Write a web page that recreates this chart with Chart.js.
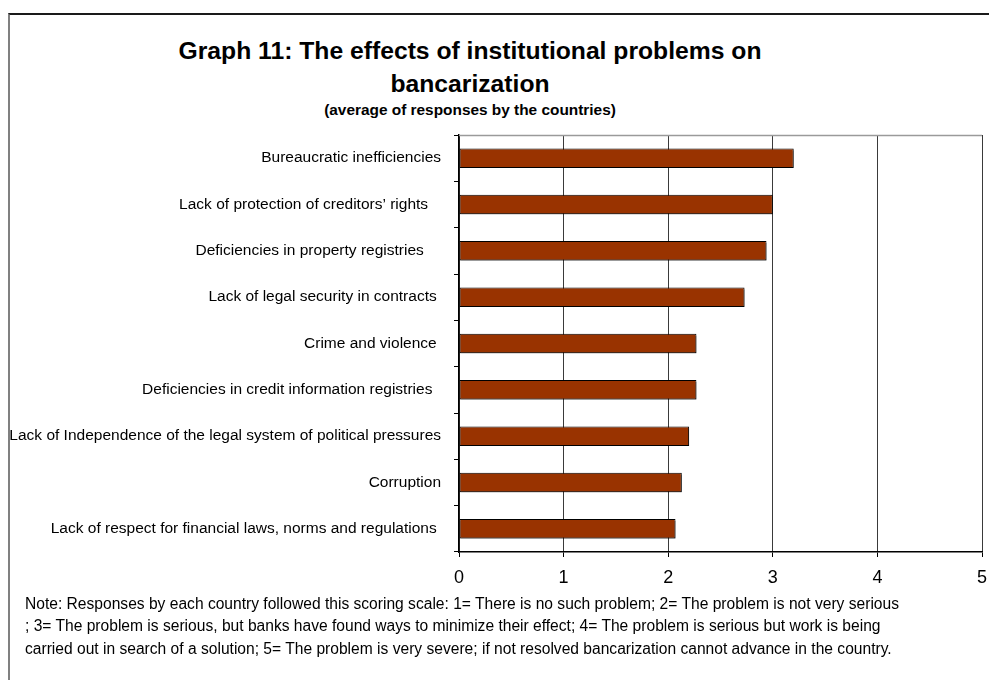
<!DOCTYPE html>
<html>
<head>
<meta charset="utf-8">
<script src="https://cdn.jsdelivr.net/npm/chart.js@4/dist/chart.umd.min.js"></script>
<style>
  html, body { margin: 0; padding: 0; background: #fff; }
  body { width: 989px; height: 680px; position: relative; overflow: hidden; font-family: "Liberation Sans", Arial, sans-serif; color: #000; }
  #frame { position: absolute; left: 8px; top: 13px; width: 1000px; height: 700px; border-top: 2px solid #1a1a1a; border-left: 2px solid #808080; }
  #title { position: absolute; left: 0; top: 33.5px; width: 940px; text-align: center; font-weight: bold; font-size: 24.7px; line-height: 33px; }
  #subtitle { position: absolute; left: 0; top: 101px; width: 940px; text-align: center; font-weight: bold; font-size: 15.4px; line-height: 18px; }
  #note { position: absolute; left: 25px; top: 592.5px; width: 960px; font-size: 15.6px; line-height: 22.5px; white-space: nowrap; }
  canvas { position: absolute; left: 0; top: 0; }
</style>
</head>
<body>
<div id="frame"></div>
<div id="title">Graph 11: The effects of institutional problems on<br>bancarization</div>
<div id="subtitle">(average of responses by the countries)</div>
<canvas id="chart" width="989" height="680"></canvas>
<div id="note">Note: Responses by each country followed this scoring scale: 1= There is no such problem; 2= The problem is not very serious<br>; 3= The problem is serious, but banks have found ways to minimize their effect; 4= The problem is serious but work is being<br>carried out in search of a solution; 5= The problem is very severe; if not resolved bancarization cannot advance in the country.</div>
<script>
// Institutional problems, in the order shown top to bottom
const problems = [
  "Bureaucratic inefficiencies",
  "Lack of protection of creditors\u2019 rights   ",
  "Deficiencies in property registries    ",
  "Lack of legal security in contracts ",
  "Crime and violence ",
  "Deficiencies in credit information registries  ",
  "Lack of Independence of the legal system of political pressures",
  "Corruption",
  "Lack of respect for financial laws, norms and regulations "
];

// Average score given by the countries (scale 1-5)
const averageScore = [3.20, 3.00, 2.94, 2.73, 2.27, 2.27, 2.20, 2.13, 2.07];

// Score axis ticks
const scoreTicks = [0, 1, 2, 3, 4, 5];

const PLOT_LEFT = 459, PLOT_BOTTOM = 552, CANVAS_H = 680;

// Grey plot-area top edge
const plotFrame = {
  id: 'plotFrame',
  afterDraw(chart) {
    const { ctx, chartArea: a } = chart;
    ctx.save();
    ctx.strokeStyle = '#9a9a9a';
    ctx.lineWidth = 1.5;
    ctx.beginPath();
    ctx.moveTo(a.left, a.top + 0.5);
    ctx.lineTo(a.right, a.top + 0.5);
    ctx.stroke();
    ctx.restore();
  }
};

// Light drop shadow under the bars
const barShadow = {
  id: 'barShadow',
  beforeDatasetsDraw(chart) {
    const ctx = chart.ctx;
    ctx.save();
    ctx.shadowColor = 'rgba(0,0,0,0.38)';
    ctx.shadowOffsetX = 1;
    ctx.shadowOffsetY = 2;
    ctx.shadowBlur = 0;
  },
  afterDatasetsDraw(chart) {
    chart.ctx.restore();
  }
};

new Chart(document.getElementById('chart'), {
  type: 'bar',
  data: {
    labels: problems,
    datasets: [{
      data: averageScore,
      backgroundColor: '#993300',
      borderColor: '#000000',
      borderWidth: 1,
      borderSkipped: false,
      categoryPercentage: 1,
      barPercentage: 0.42
    }]
  },
  options: {
    indexAxis: 'y',
    responsive: false,
    animation: false,
    events: [],
    layout: { padding: { top: 135, left: 0, right: 7, bottom: 0 } },
    plugins: {
      legend: { display: false },
      tooltip: { enabled: false },
      title: { display: false }
    },
    scales: {
      x: {
        min: scoreTicks[0],
        max: scoreTicks[scoreTicks.length - 1],
        afterBuildTicks(scale) { scale.ticks = scoreTicks.map(v => ({ value: v })); },
        afterFit(scale) {
          scale.height = CANVAS_H - PLOT_BOTTOM;
          scale.paddingLeft = 0;
          scale.paddingRight = 0;
        },
        ticks: {
          color: '#000',
          font: { family: '"Liberation Sans", Arial, sans-serif', size: 18 },
          padding: 10
        },
        grid: { color: '#3a3a3a', lineWidth: 1, tickLength: 5, tickColor: '#000' },
        border: { color: '#000', width: 1.5 }
      },
      y: {
        afterFit(scale) { scale.width = PLOT_LEFT; },
        ticks: {
          color: '#000',
          font: { family: '"Liberation Sans", Arial, sans-serif', size: 15.5 },
          padding: 13,
          autoSkip: false
        },
        grid: { drawOnChartArea: false, offset: true, tickLength: 5, tickColor: '#000' },
        border: { color: '#000', width: 1.5 }
      }
    }
  },
  plugins: [barShadow, plotFrame]
});
</script>
</body>
</html>
